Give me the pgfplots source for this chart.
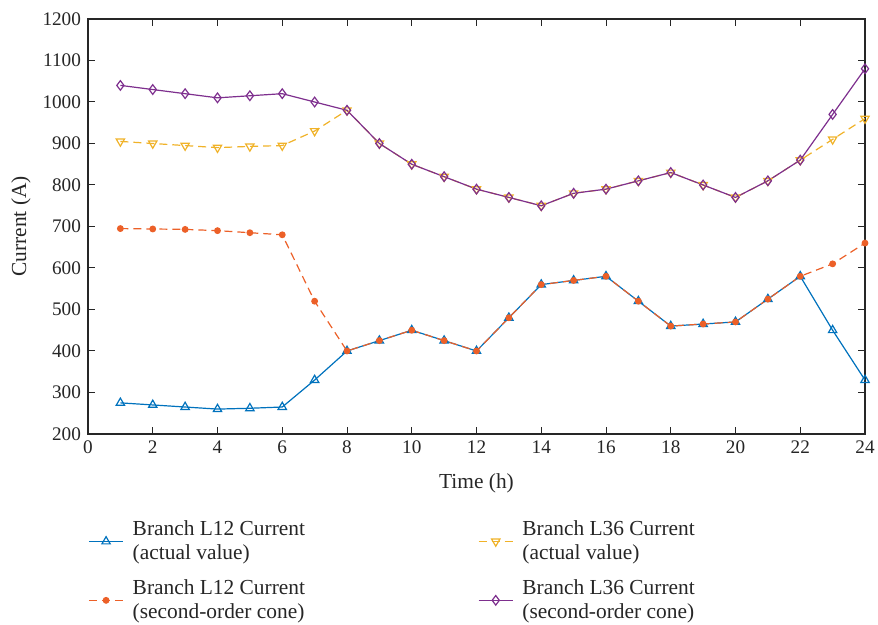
\documentclass[border=0pt]{standalone}
\usepackage{fontspec}
\setmainfont{Liberation Serif}
\usepackage{pgfplots}
\pgfplotsset{compat=1.18}

\definecolor{cblue}{RGB}{0,114,189}
\definecolor{corange}{RGB}{236,96,40}
\definecolor{cyellow}{RGB}{240,178,40}
\definecolor{cpurple}{RGB}{126,47,142}

\begin{document}
\begin{tikzpicture}
\useasboundingbox (0,0) rectangle (439pt,312.5pt);
\begin{axis}[
  at={(44pt,95.5pt)}, anchor=south west,
  scale only axis, width=388.5pt, height=207.5pt,
  xmin=0, xmax=24, ymin=200, ymax=1200,
  xtick={0,2,...,24}, ytick={200,300,...,1200},
  tick align=inside, major tick length=3.5pt,
  axis line style={line width=0.6pt, black!85},
  every tick/.style={black!85, line width=0.5pt},
  tick label style={font=\fontsize{9.6}{11}\selectfont, text=black!85},
  label style={font=\fontsize{10.7}{12}\selectfont, text=black!85},
  /pgf/number format/assume math mode=true,
  /pgf/number format/1000 sep={},
  xlabel={Time (h)}, ylabel={Current (A)},
  xlabel style={yshift=-3pt},
  ylabel style={yshift=-1pt},
  legend columns=2,
  legend cell align=left,
  legend style={draw=none, fill=none, at={(0,-0.198)}, anchor=north west,
    inner sep=0pt, font=\fontsize{10.7}{12}\selectfont, text=black!85,
    nodes={align=left, inner xsep=4.5pt}, row sep=4.5pt,
    /tikz/every even column/.append style={column sep=82pt}},
  every axis plot/.append style={line width=0.6pt},
]
\addplot[cblue, mark=triangle, mark size=2.4pt, mark options={solid, line width=0.6pt}]
  coordinates {(1,275)(2,270)(3,265)(4,260)(5,262)(6,265)(7,330)(8,400)(9,425)(10,450)(11,425)(12,400)
  (13,480)(14,560)(15,570)(16,580)(17,520)(18,460)(19,465)(20,470)(21,525)(22,580)(23,450)(24,330)};
\addlegendentry{Branch L12 Current\\(actual value)}
\addplot[cyellow, dashed, dash pattern=on 4pt off 2.5pt, mark=triangle, mark size=2.4pt,
  mark options={solid, rotate=180, line width=0.6pt}]
  coordinates {(1,905)(2,900)(3,895)(4,890)(5,893)(6,895)(7,930)(8,980)(9,900)(10,850)(11,820)(12,790)
  (13,770)(14,750)(15,780)(16,790)(17,810)(18,830)(19,800)(20,770)(21,810)(22,860)(23,910)(24,960)};
\addlegendentry{Branch L36 Current\\(actual value)}
\addplot[corange, dashed, dash pattern=on 4pt off 2.5pt, mark=*, mark size=1.4pt, mark options={solid}]
  coordinates {(1,695)(2,694)(3,693)(4,690)(5,685)(6,680)(7,520)(8,400)(9,425)(10,450)(11,425)(12,400)
  (13,480)(14,560)(15,570)(16,580)(17,520)(18,460)(19,465)(20,470)(21,525)(22,580)(23,610)(24,660)};
\addlegendentry{Branch L12 Current\\(second-order cone)}
\addplot[cpurple, mark=diamond, mark size=2.4pt, mark options={solid, line width=0.6pt}]
  coordinates {(1,1040)(2,1030)(3,1020)(4,1010)(5,1015)(6,1020)(7,1000)(8,980)(9,900)(10,850)(11,820)(12,790)
  (13,770)(14,750)(15,780)(16,790)(17,810)(18,830)(19,800)(20,770)(21,810)(22,860)(23,970)(24,1080)};
\addlegendentry{Branch L36 Current\\(second-order cone)}
\end{axis}
\end{tikzpicture}
\end{document}
